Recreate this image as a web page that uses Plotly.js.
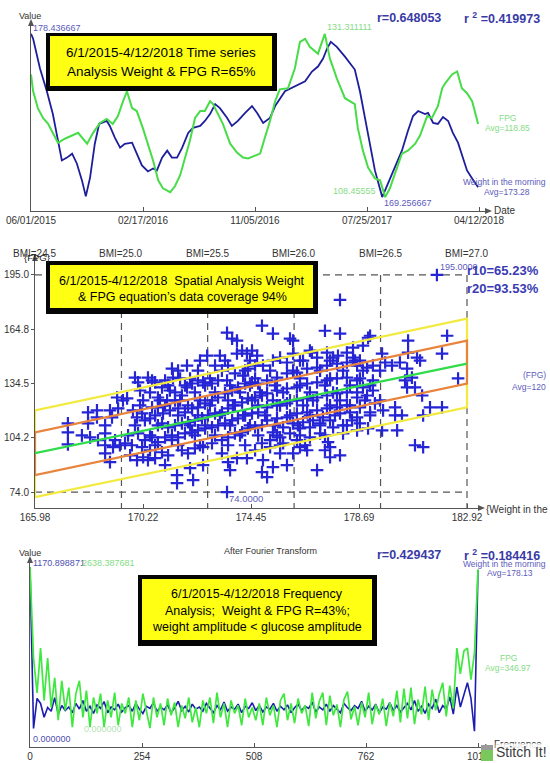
<!DOCTYPE html>
<html><head><meta charset="utf-8">
<script src="https://cdn.plot.ly/plotly-3.0.1.min.js"></script>
<style>html,body{margin:0;padding:0;background:#fff;}#chart{width:550px;height:763px;}</style>
</head><body><div id="chart"></div>
<script>
// ---------- Panel 1: time series (days since 06/01/2015) ----------
const dateTickVals = [0, 261.5, 523, 784.5, 1046];
const dateTickText = ['06/01/2015','02/17/2016','11/05/2016','07/25/2017','04/12/2018'];
const weightDays = [0,5,21,37,51,63,72,84,96,107,119,128,138,149,159,177,184,196,208,219,236,247,259,273,285,294,306,318,329,341,353,367,378,395,406,418,430,441,458,469,483,500,516,528,542,558,570,593,616,640,656,670,682,691,700,714,733,756,768,780,791,803,820,834,850,866,880,892,904,920,927,939,950,962,974,985,997,1009,1018,1030,1044];
const weightVals = [178.44,178.16,176.49,175.21,173.93,172.43,171.32,171.48,171.70,171.15,170.20,169.30,170.37,172.26,173.37,173.54,173.26,172.59,172.04,172.26,172.32,171.70,171.04,170.70,170.87,170.76,171.48,171.87,171.48,171.48,172.04,172.87,173.15,173.26,173.54,173.93,174.49,174.26,173.71,173.26,173.54,173.99,174.38,173.99,173.43,173.71,174.38,175.21,175.49,175.77,176.32,176.60,177.05,177.60,177.99,177.71,177.16,176.43,175.21,173.71,172.26,170.76,169.26,170.04,170.93,171.87,172.98,173.82,174.10,173.93,173.99,173.43,173.37,173.76,173.54,172.87,172.32,171.48,170.76,170.31,169.81];
const fpgDays = [0,5,16,28,40,51,63,79,96,110,131,145,161,177,191,203,215,224,236,247,261,273,285,297,308,325,336,348,360,371,383,395,406,418,425,437,448,465,481,495,507,523,535,546,558,570,581,600,616,628,640,651,670,686,698,714,733,756,763,775,787,803,815,827,838,850,866,880,897,908,915,925,936,950,960,967,983,995,1006,1018,1030,1044];
const fpgVals = [125.63,123.28,120.92,119.54,118.71,117.46,116.07,116.63,117.04,117.46,115.94,117.46,118.84,119.40,118.71,119.81,121.89,123.28,120.92,120.51,118.15,115.94,113.58,110.81,109.70,109.15,109.98,111.50,114.00,116.35,119.54,120.51,120.51,121.89,121.48,120.09,118.71,115.94,114.69,114.00,113.86,114.27,114.55,116.77,119.12,121.89,123.55,123.69,126.46,130.20,130.62,129.51,128.54,131.31,127.85,125.08,122.31,121.48,118.15,114.97,112.61,111.09,110.81,108.46,109.70,111.78,114.55,114.97,115.94,117.04,118.15,119.81,119.54,121.20,123.69,124.39,125.63,126.05,123.69,123.00,121.89,118.71];
const weightExtremes = [169.256667, 178.436667];
const fpgExtremes = [108.455555, 131.311111];

// ---------- Panel 2: scatter weight vs FPG ----------
const scatterWeight = [167.27,167.27,167.27,167.82,168.06,168.06,168.14,168.41,168.41,168.45,168.73,168.73,168.73,168.73,168.92,169.00,168.92,169.04,169.12,169.20,169.24,169.31,169.43,169.51,169.59,169.71,169.82,169.90,169.98,169.98,170.02,170.02,170.10,170.18,170.18,170.22,170.22,170.29,170.29,170.41,170.41,170.49,170.49,170.57,170.57,170.57,170.69,170.69,170.80,170.80,170.80,170.96,170.96,170.96,171.00,171.08,171.08,171.08,171.16,171.20,171.20,171.27,171.27,171.35,171.35,171.39,171.47,171.47,171.55,171.55,171.59,171.59,171.67,171.74,171.74,171.74,171.86,171.86,171.94,171.94,171.98,171.98,172.06,172.14,172.14,172.14,172.18,172.25,172.25,172.37,172.37,172.37,172.53,172.57,172.57,172.57,172.65,172.65,172.73,172.76,172.92,172.92,172.92,172.92,173.04,173.04,173.16,173.16,173.16,173.23,173.31,173.31,173.31,173.43,173.43,173.51,173.51,173.51,173.55,173.55,173.55,173.55,173.63,173.71,173.71,173.71,173.82,173.82,173.82,173.90,173.90,173.90,173.94,173.94,174.10,174.10,174.10,174.14,174.22,174.22,174.29,174.29,174.33,174.33,174.33,174.49,174.49,174.49,174.61,174.61,174.61,174.61,174.69,174.73,174.73,174.88,174.88,174.88,174.88,174.88,174.92,174.92,175.08,175.08,175.08,175.08,175.08,175.20,175.20,175.31,175.31,175.31,175.31,175.47,175.47,175.47,175.47,175.59,175.59,175.59,175.71,175.71,175.86,175.86,175.86,175.86,175.86,175.86,175.98,175.98,176.10,176.10,176.10,176.10,176.25,176.25,176.25,176.25,176.25,176.37,176.37,176.49,176.49,176.65,176.65,176.65,176.65,176.65,176.76,176.76,176.76,176.84,176.88,177.04,177.04,177.04,177.04,177.04,177.04,177.16,177.16,177.27,177.35,177.35,177.43,177.43,177.43,177.43,177.43,177.47,177.55,177.55,177.55,177.67,177.67,177.82,177.82,177.82,177.82,177.86,177.94,177.94,177.94,177.94,178.06,178.06,178.21,178.21,178.21,178.21,178.21,178.33,178.41,178.45,178.45,178.61,178.61,178.61,178.61,178.61,178.72,178.72,178.72,178.84,178.84,179.00,179.00,179.04,179.04,179.12,179.12,179.23,179.23,179.23,179.31,179.51,179.51,179.59,179.59,179.63,179.71,179.98,180.10,180.10,180.18,180.29,180.37,180.49,180.57,180.57,180.61,180.61,180.76,180.88,180.88,180.96,181.08,181.16,181.20,181.20,181.47,181.74,181.94,181.94,182.14,182.57,183.70];
const scatterFpg = [112.3,107.3,100.6,105.6,118.4,112.3,104.5,119.5,115.6,102.9,111.2,106.7,100.1,95.6,119.5,115.6,90.7,99.0,102.9,126.7,120.6,100.1,125.1,101.2,126.2,94.5,119.5,137.8,115.6,91.8,135.1,106.7,130.6,117.8,99.0,125.1,93.4,114.0,102.9,137.8,91.8,115.1,97.3,136.2,121.2,104.5,135.1,92.9,126.7,121.2,101.8,132.3,112.3,96.2,117.8,136.2,104.5,89.0,125.1,110.1,94.5,130.6,119.5,142.8,102.9,137.8,125.1,111.2,83.4,79.0,120.6,104.5,137.3,127.8,112.3,97.3,118.4,106.7,144.5,132.3,112.9,95.6,87.3,134.5,120.6,107.3,80.7,114.0,98.4,136.2,121.2,108.4,115.1,135.1,99.0,89.0,123.4,109.5,150.0,116.7,134.5,125.1,110.1,101.2,144.5,117.8,136.2,126.7,111.2,150.0,118.4,102.9,95.6,129.0,112.3,162.8,136.2,74.0,144.5,120.6,104.5,90.7,86.2,159.5,130.6,114.0,140.1,122.3,106.7,158.4,151.2,92.9,132.3,115.1,152.8,124.0,107.3,138.9,134.5,116.7,151.2,92.9,142.8,126.2,109.5,152.8,135.1,117.8,144.5,126.7,110.1,97.3,150.0,134.5,118.4,166.7,127.8,111.2,101.2,85.1,144.5,91.8,136.2,129.0,121.2,114.0,82.3,102.9,99.0,162.3,147.3,107.3,87.9,137.8,130.6,122.3,115.1,148.9,104.5,95.6,110.1,101.2,146.2,140.1,131.7,123.4,115.6,89.0,159.5,106.7,158.4,151.2,112.3,95.6,140.6,132.3,125.1,117.8,102.9,109.5,99.0,147.3,112.9,142.8,134.5,126.2,118.4,97.3,152.8,110.1,104.5,151.7,114.0,148.9,143.4,135.1,126.7,119.5,86.2,112.3,106.7,115.6,163.9,97.3,151.7,144.5,136.2,127.8,120.6,101.8,114.0,99.0,93.4,148.9,110.1,145.6,137.3,129.0,121.2,150.0,181.1,162.3,117.8,94.5,111.2,106.7,151.7,146.2,137.8,129.5,122.3,118.4,114.0,154.5,148.9,144.5,136.2,126.7,115.6,108.4,147.3,121.2,112.3,155.6,132.3,143.4,127.8,160.0,109.5,161.1,118.4,144.5,136.2,130.6,123.4,141.7,125.1,151.2,108.4,119.5,146.2,144.5,121.2,116.7,108.4,146.2,116.7,136.2,142.8,132.3,158.4,151.7,137.8,132.3,100.1,148.9,147.3,127.8,116.7,99.0,121.2,195.0,151.2,121.2,161.1,137.3,135.1];
// dense core of the cloud (estimated where the crosses merge into a solid mass)
const coreWeight = [171.59,172.37,173.31,174.22,175.20,176.10,177.16,178.06,178.84,171.20,171.86,172.65,173.63,174.41,175.39,176.37,177.35,178.33,179.12,170.49,171.47,172.25,173.04,174.02,174.80,175.71,176.76,177.67,178.61,170.88,171.67,172.45,173.55,174.49,175.31,175.98,176.88,177.94,178.92,170.10,171.08,171.98,172.84,173.74,174.73,175.59,176.49,177.55,178.33,170.69,171.59,172.37,173.23,174.14,175.00,175.98,176.76,177.74,179.12,169.90,170.80,172.06,172.65,173.63,174.41,175.39,176.29,177.16,178.21,169.63,170.49,171.35,172.25,173.04,174.02,174.73,175.47,176.37,177.35,169.78,170.69,171.59,172.45,173.55,174.22,175.59,176.57,172.06,172.84,174.61,176.37,177.55,178.72,172.45,173.43,174.41,176.37,177.55,178.53];
const coreFpg = [141.7,141.7,141.7,141.7,141.7,141.7,141.7,141.7,141.7,133.4,133.4,133.4,133.4,133.4,133.4,133.4,133.4,133.4,133.4,129.5,129.5,129.5,129.5,129.5,129.5,129.5,129.5,129.5,129.5,125.1,125.1,125.1,125.1,125.1,125.1,125.1,125.1,125.1,125.1,122.3,122.3,122.3,122.3,122.3,122.3,122.3,122.3,122.3,122.3,116.7,116.7,116.7,116.7,116.7,116.7,116.7,116.7,116.7,116.7,111.2,111.2,111.2,111.2,111.2,111.2,111.2,111.2,111.2,111.2,105.6,105.6,105.6,105.6,105.6,105.6,105.6,105.6,105.6,105.6,100.1,100.1,100.1,100.1,100.1,100.1,100.1,100.1,137.3,137.3,137.3,137.3,137.3,137.3,147.3,147.3,147.3,147.3,147.3,147.3];
const fitWeight = [165.98, 182.92];
const fitFpg = [95.65, 145.60];
const orangeTop = [107.3, 158.4];
const orangeBottom = [83.4, 134.5];
const yellowTop = [119.5, 170.6];
const yellowBottom = [71.2, 121.2];
const weightTicks = [165.98, 170.22, 174.45, 178.69, 182.92];
const fpgTicks = [195.0, 164.8, 134.5, 104.2, 74.0];
const bmiLabels = ['BMI=24.5','BMI=25.0','BMI=25.5','BMI=26.0','BMI=26.5','BMI=27.0'];
const bmiWeights = [165.98, 169.37, 172.75, 176.14, 179.53, 182.92];

// ---------- Panel 3: FFT magnitudes (bin step 8) ----------
const binStep = 8;
const fftWeight = [1170.9,40,250,215,118,187,160,256,140,200,165,190,150,215,176,235,160,195,145,205,180,228,150,190,170,210,155,185,200,160,215,175,145,195,180,220,160,190,170,205,150,185,230,165,195,155,210,175,190,160,215,180,150,200,170,225,160,190,175,210,150,195,180,220,165,200,155,190,175,215,160,195,170,205,150,185,210,165,195,180,225,155,190,170,210,160,200,175,150,215,185,165,200,180,230,160,195,170,210,150,190,175,220,165,200,155,185,215,170,235,160,195,145,210,180,245,150,200,175,260,140,330,190,280,360,250,20,1150];
const fftFpg = [2638.39,1200,650,1358,531,1202,421,890,219,843,375,734,109,640,843,265,687,109,578,328,640,109,531,265,656,140,484,328,578,109,531,219,640,375,94,578,265,484,140,562,297,500,109,453,250,578,187,421,109,531,328,578,172,656,265,484,109,531,328,453,140,562,265,421,219,484,140,578,297,453,109,531,640,219,484,172,562,328,453,125,656,250,515,656,140,609,297,468,109,546,671,234,437,140,500,265,656,156,468,312,562,125,500,281,687,187,718,250,734,156,546,312,750,219,703,375,625,812,281,765,406,1358,952,1311,1358,859,1280,2600];
const fftTicks = [0, 254, 508, 762, 1016];
const fftExtremes = [1170.898871, 2638.387681];

// ---------- layout helpers ----------
const W = 550, H = 763;
const FONT = 'Liberation Sans, Arial, sans-serif';
const px = x => x / W;
const py = y => 1 - y / H;
function fitRange(lo, hi, padLo, padHi, span) {
  const u = (hi - lo) / (span - padLo - padHi);
  return [lo - padLo * u, hi + padHi * u];
}
const BLUE_LBL = '#5c5cbc', GREEN_LBL = '#86dc86', DARK = '#333';
const annotations = [];
function A(text, x, y, size, color, anchor, extra) {
  annotations.push(Object.assign({text, x: px(x), y: py(y), xref: 'paper', yref: 'paper',
    xanchor: anchor || 'center', yanchor: 'middle', showarrow: false,
    font: {family: FONT, size, color}}, extra || {}));
}
const shapes = [];
function rect(x0, y0, x1, y1, fill) {
  shapes.push({type: 'rect', xref: 'paper', yref: 'paper', x0: px(x0), x1: px(x1), y0: py(y1), y1: py(y0),
    fillcolor: fill, line: {width: 0}});
}
function tri(points, color) {
  const d = 'M' + points.map(p => px(p[0]) + ',' + py(p[1])).join(' L') + ' Z';
  shapes.push({type: 'path', xref: 'paper', yref: 'paper', path: d, fillcolor: color, line: {width: 0}});
}
function box(x0, y0, x1, y1, ix0, iy0, ix1, iy1) {
  rect(x0, y0, x1, y1, '#050505');
  rect(ix0, iy0, ix1, iy1, '#ffff14');
}
const axisBase = {showgrid: false, zeroline: false, showline: true, linecolor: '#555', linewidth: 1,
  ticks: 'inside', ticklen: 4, tickcolor: '#555', tickfont: {family: FONT, size: 10, color: DARK}};

// ---------- ranges ----------
const r1w = fitRange(weightExtremes[0], weightExtremes[1], 14, 10, 189);
const r1f = fitRange(fpgExtremes[0], fpgExtremes[1], 14, 10, 189);
const r2y = fitRange(fpgTicks[4], fpgTicks[0], 16, 17, 251);
const r2x = [weightTicks[0], weightTicks[0] + (weightTicks[4] - weightTicks[0]) * (443 / 432)];
const r3w = fitRange(0, fftExtremes[0], 13, 7, 189);
const r3f = fitRange(0, fftExtremes[1], 13, 7, 189);
const fftBins = fftFpg.map((_, i) => i * binStep);
const allWeight = scatterWeight.concat(coreWeight);
const allFpg = scatterFpg.concat(coreFpg);

const traces = [
  {x: weightDays, y: weightVals, xaxis: 'x', yaxis: 'y', mode: 'lines', line: {color: '#1e1e9c', width: 1.8}, hoverinfo: 'skip'},
  {x: fpgDays, y: fpgVals, xaxis: 'x', yaxis: 'y2', mode: 'lines', line: {color: '#48dc48', width: 2}, hoverinfo: 'skip'},
  {x: allWeight, y: allFpg, xaxis: 'x2', yaxis: 'y3', mode: 'markers', cliponaxis: false,
   marker: {symbol: 'cross-thin', size: 9, color: '#2525d6', line: {width: 2.2, color: '#2525d6'}}, hoverinfo: 'skip'},
  {x: [fitWeight[0], fitWeight[1], fitWeight[1], fitWeight[0], fitWeight[0]],
   y: [yellowTop[0], yellowTop[1], yellowBottom[1], yellowBottom[0], yellowTop[0]],
   xaxis: 'x2', yaxis: 'y3', mode: 'lines', line: {color: '#f3ea40', width: 2.2}, hoverinfo: 'skip'},
  {x: [fitWeight[0], fitWeight[1], fitWeight[1], fitWeight[0], fitWeight[0]],
   y: [orangeTop[0], orangeTop[1], orangeBottom[1], orangeBottom[0], orangeTop[0]],
   xaxis: 'x2', yaxis: 'y3', mode: 'lines', line: {color: '#e8843c', width: 2.2}, hoverinfo: 'skip'},
  {x: fitWeight, y: fitFpg, xaxis: 'x2', yaxis: 'y3', mode: 'lines', line: {color: '#30dc4a', width: 2.2}, hoverinfo: 'skip'},
  {x: fftBins.slice(0, fftWeight.length), y: fftWeight, xaxis: 'x3', yaxis: 'y4', mode: 'lines', line: {color: '#1c1cb0', width: 1.6}, hoverinfo: 'skip'},
  {x: fftBins, y: fftFpg, xaxis: 'x3', yaxis: 'y5', mode: 'lines', line: {color: '#3ee83e', width: 1.7}, hoverinfo: 'skip'}
];

// ---------- panel 1 decorations ----------
box(46, 33, 277, 91, 50, 36, 272, 86);
A('6/1/2015-4/12/2018 Time series', 161, 52, 13.5, '#000');
A('Analysis Weight &amp; FPG R=65%', 161, 72, 13.5, '#000');
A('Value', 30, 16, 9, DARK);
A('178.436667', 31, 28, 9, BLUE_LBL, 'left');
A('131.311111', 325, 27, 9, GREEN_LBL, 'left');
A('108.45555', 378, 191, 9, GREEN_LBL, 'right');
A('169.256667', 382, 203, 9, BLUE_LBL, 'left');
A('<b>r=0.648053</b>', 375, 18, 12.5, '#3a3aa6', 'left');
A('<b>r <sup>2</sup> =0.419973</b>', 462, 18, 12.5, '#3a3aa6', 'left');
A('FPG', 507, 118, 8.5, GREEN_LBL);
A('Avg=118.85', 507, 128, 8.5, GREEN_LBL);
A('Weight in the morning', 548, 182, 8.5, BLUE_LBL, 'right');
A('Avg=173.28', 507, 192, 8.5, BLUE_LBL);
A('Date', 492, 210, 10, DARK, 'left');
tri([[492, 211], [485, 208], [485, 214]], '#555');
tri([[31, 19], [28, 26], [34, 26]], '#555');

// ---------- panel 2 decorations ----------
box(46, 261, 318, 314, 50, 265, 313, 308);
A('6/1/2015-4/12/2018  Spatial Analysis Weight', 182, 281, 12.5, '#000');
A('&amp; FPG equation\u2019s data coverage 94%', 182, 297, 12.5, '#000');
bmiLabels.forEach((t, i) => annotations.push({text: t, x: bmiWeights[i], xref: 'x2', y: py(253), yref: 'paper',
  showarrow: false, xanchor: 'center', yanchor: 'middle', font: {family: FONT, size: 10, color: DARK}}));
A('{FPG}', 37, 258, 9.5, '#222');
A('195.0000', 438, 267, 9, BLUE_LBL, 'left');
A('<b>r10=65.23%</b>', 465, 270, 13, '#3a3ab4', 'left');
A('<b>r20=93.53%</b>', 465, 288, 13, '#3a3ab4', 'left');
A('(FPG)', 548, 375, 8.5, BLUE_LBL, 'right');
A('Avg=120', 548, 387, 8.5, BLUE_LBL, 'right');
A('74.0000', 227, 498, 9.5, BLUE_LBL, 'left');
A('{Weight in the', 484, 509, 10, DARK, 'left');
tri([[485, 508], [478, 505], [478, 511]], '#555');
tri([[35, 254], [32, 261], [38, 261]], '#555');
const dash = {color: '#555', width: 1.2, dash: '7px,5px'};
fpgTicks.filter((v, i) => i === 0 || i === fpgTicks.length - 1).forEach(v => shapes.push({type: 'line', xref: 'x2', yref: 'y3',
  x0: weightTicks[0], x1: weightTicks[4], y0: v, y1: v, line: dash, layer: 'below'}));
bmiWeights.slice(1).forEach(w => shapes.push({type: 'line', xref: 'x2', yref: 'y3',
  x0: w, x1: w, y0: fpgTicks[0], y1: r2y[0], line: dash, layer: 'below'}));

// ---------- panel 3 decorations ----------
box(138, 575, 377, 646, 142, 579, 372, 640);
A('6/1/2015-4/12/2018 Frequency', 257, 594, 12.5, '#000');
A('Analysis;  Weight &amp; FPG R=43%;', 257, 611, 12.5, '#000');
A('weight amplitude &lt; glucose amplitude', 257, 627, 12.5, '#000');
A('Value', 30, 553, 9, DARK);
A('1170.898871', 31, 563, 9, '#5050b0', 'left');
A('2638.387681', 80, 563, 9, GREEN_LBL, 'left');
A('After Fourier Transform', 270, 551, 9, DARK);
A('<b>r=0.429437</b>', 375, 555, 12.5, '#3a3aa6', 'left');
A('<b>r <sup>2</sup> =0.184416</b>', 462, 555, 12.5, '#3a3aa6', 'left');
A('Weight in the morning', 548, 564, 8.5, BLUE_LBL, 'right');
A('Avg=178.13', 510, 573, 8.5, BLUE_LBL);
A('FPG', 508, 658, 8.5, GREEN_LBL);
A('Avg=346.97', 508, 668, 8.5, GREEN_LBL);
A('0.000000', 31, 739, 9, '#5050b0', 'left');
A('0.000000', 82, 729, 9, 'rgba(110,200,110,0.55)', 'left');
A('Frequence', 492, 744, 10, DARK, 'left');
tri([[492, 747], [485, 744], [485, 750]], '#555');
tri([[30, 556], [27, 563], [33, 563]], '#555');
// watermark
rect(481, 745, 493, 750, '#9a9a9a');
rect(481, 750, 493, 761, '#78c85c');
A('Stitch It!', 495, 752, 14, '#3c3c3c', 'left', {bgcolor: 'rgba(255,255,255,0.85)', borderpad: 0});

const layout = {
  width: W, height: H, margin: {l: 0, r: 0, t: 0, b: 0}, showlegend: false,
  paper_bgcolor: '#fff', plot_bgcolor: 'rgba(0,0,0,0)', font: {family: FONT},
  xaxis: Object.assign({}, axisBase, {domain: [px(31), px(485)], range: [0, dateTickVals[4] * (454 / 448)],
    tickvals: dateTickVals, ticktext: dateTickText, anchor: 'y'}),
  yaxis: Object.assign({}, axisBase, {domain: [py(211), py(24)], range: r1w, ticks: '', showticklabels: false, anchor: 'x'}),
  yaxis2: {overlaying: 'y', range: r1f, visible: false, anchor: 'x'},
  xaxis2: Object.assign({}, axisBase, {domain: [px(35), px(478)], range: r2x, tickvals: weightTicks,
    ticktext: weightTicks.map(v => v.toFixed(2)), anchor: 'y3'}),
  yaxis3: Object.assign({}, axisBase, {domain: [py(508), py(258)], range: r2y, tickvals: fpgTicks,
    ticktext: fpgTicks.map(v => v.toFixed(1)), ticks: 'outside', ticklen: 3, anchor: 'x2'}),
  xaxis3: Object.assign({}, axisBase, {domain: [px(30), px(485)], range: [0, fftTicks[4] * (455 / 448)],
    tickvals: fftTicks, ticktext: fftTicks.map(String), anchor: 'y4'}),
  yaxis4: Object.assign({}, axisBase, {domain: [py(747), py(560)], range: r3w, ticks: '', showticklabels: false, anchor: 'x3'}),
  yaxis5: {overlaying: 'y4', range: r3f, visible: false, anchor: 'x3'},
  annotations, shapes
};
Plotly.newPlot('chart', traces, layout, {staticPlot: true, displayModeBar: false});
</script></body></html>
